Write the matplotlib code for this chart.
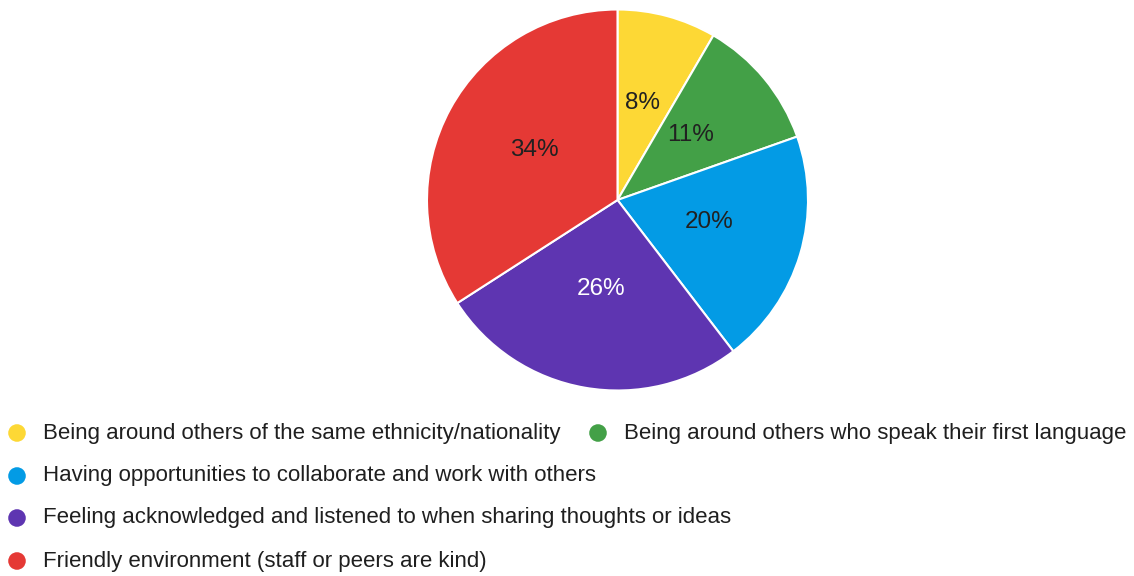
import matplotlib.pyplot as plt

# survey answers, share of responses in %
labels = ['Being around others of the same ethnicity/nationality',
          'Being around others who speak their first language',
          'Having opportunities to collaborate and work with others',
          'Feeling acknowledged and listened to when sharing thoughts or ideas',
          'Friendly environment (staff or peers are kind)']
values = [8.4, 11.2, 20.0, 26.3, 34.1]
colors = ['#FDD835', '#43A047', '#039BE5', '#5E35B1', '#E53935']
text_colors = ['#212121', '#212121', '#212121', 'white', '#212121']

plt.rcParams['font.family'] = ['Liberation Sans', 'DejaVu Sans']

W, H = 1134, 576
fig = plt.figure(figsize=(W / 100, H / 100), dpi=100)

# pie: centre (617.5, 200) px, radius 190.5 px
cx, cy, r = 617.5, 200, 190.5
ax = fig.add_axes([(cx - r) / W, (H - cy - r) / H, 2 * r / W, 2 * r / H])
wedges, texts, autotexts = ax.pie(values, colors=colors, startangle=90, counterclock=False,
                                  autopct=lambda p: '%d%%' % round(p), pctdistance=0.5,
                                  wedgeprops=dict(edgecolor='white', linewidth=1.5),
                                  textprops=dict(fontsize=17.5))
for t, c in zip(autotexts, text_colors):
    t.set_color(c)
    # nudge labels up a few pixels like the google forms chart
    x, y = t.get_position()
    t.set_position((x, y + 0.025))
ax.set_xlim(-1.0, 1.0)
ax.set_ylim(-1.0, 1.0)

# legend drawn in pixel coordinates
lax = fig.add_axes([0, 0, 1, 1])
lax.set_xlim(0, W)
lax.set_ylim(H, 0)
lax.axis('off')
# (marker x, row y) for each entry
leg_x = [17, 598, 17, 17, 17]
leg_y = [433, 433, 476, 518, 561]
for lab, col, x, y in zip(labels, colors, leg_x, leg_y):
    lax.scatter([x], [y], s=160, color=col, edgecolors='none')
    lax.text(x + 26, y, lab, fontsize=16.05, color='#1f1f1f', va='center', ha='left')

fig.savefig('out.png', dpi=100)
